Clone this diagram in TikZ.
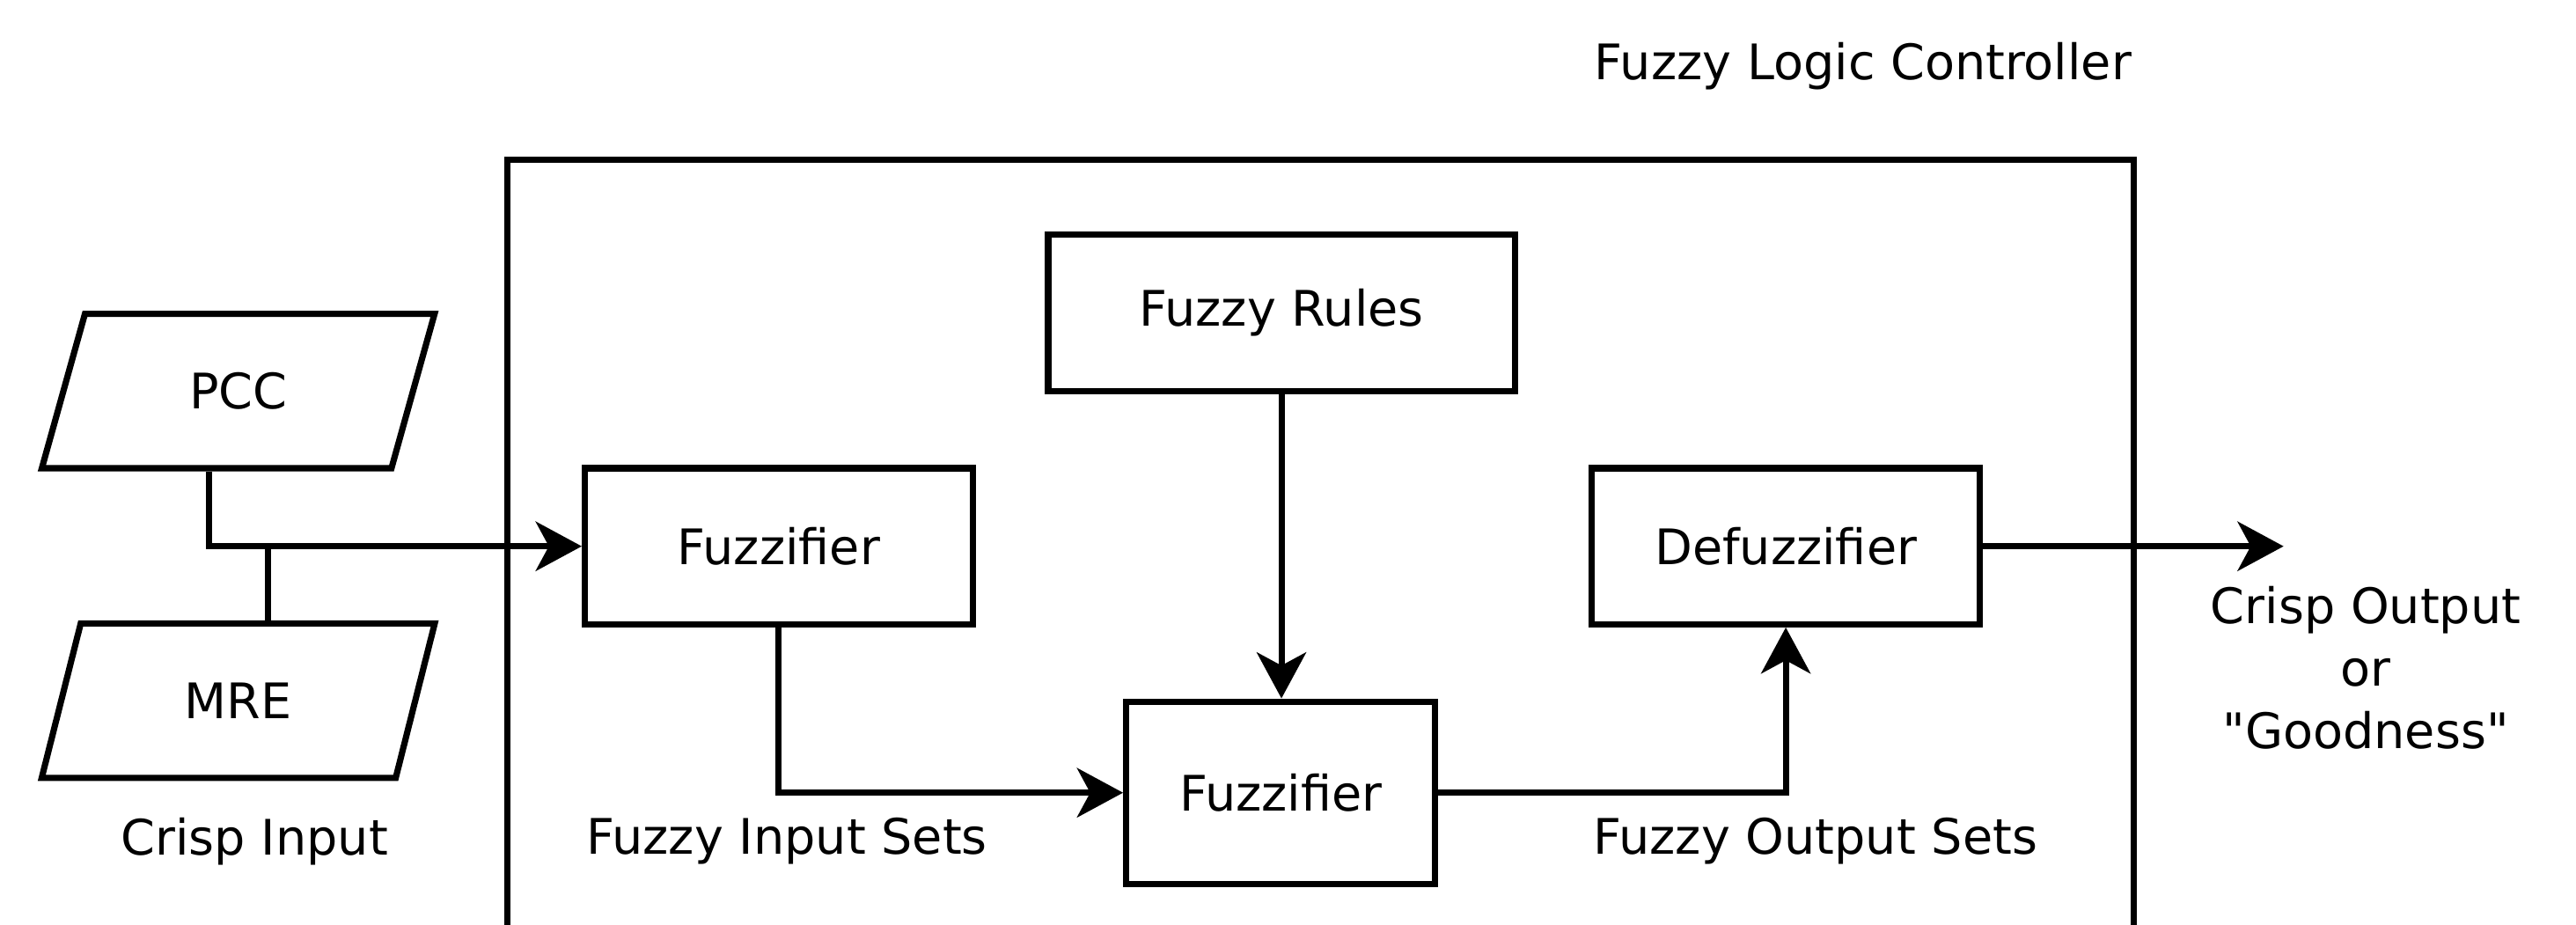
\documentclass[tikz,border=0pt]{standalone}
\usepackage{fontspec}
\setmainfont{DejaVu Sans}
\newfontfamily\qfont{DejaVu Sans}[Ligatures=TeXOff]
\usetikzlibrary{shapes.geometric,arrows.meta}
\newcommand\mylbl{\fontsize{14.9}{19}\selectfont}
\begin{document}
\begin{tikzpicture}[x=0.5pt,y=-0.5pt,
  line width=1.9pt,
  box/.style={draw,rectangle,inner sep=0pt,font=\mylbl},
  para/.style={draw,trapezium,trapezium left angle=69.6,trapezium right angle=110.4,
    trapezium stretches=true,minimum width=120pt,minimum height=47pt,inner sep=0pt,font=\mylbl},
  txt/.style={inner sep=0pt,font=\mylbl,align=center},
  arr/.style={-{Stealth[length=14pt,width=15pt,inset=4pt]}}]
\clip (0,0) rectangle (1568,563);
\useasboundingbox (0,0) rectangle (1568,563);
% outer controller box
\node[draw,rectangle,inner sep=0pt,minimum width=495pt,minimum height=251.5pt] (flc) at (804,348.5) {};
\node[txt] (title) at (1134,40) {Fuzzy Logic Controller};
% blocks
\node[box,minimum width=142pt,minimum height=47.5pt] (fr) at (780,190.5) {Fuzzy Rules};
\node[box,minimum width=118pt,minimum height=47.5pt] (fz1) at (474,332.5) {Fuzzifier};
\node[box,minimum width=118pt,minimum height=47.5pt] (dfz) at (1087,332.5) {Defuzzifier};
\node[box,minimum width=94pt,minimum height=55.5pt] (fz2) at (779.5,482.5) {Fuzzifier};
% inputs
\node[para] (pcc) at (145,238) {PCC};
\node[para] (mre) at (145,426.5) {MRE};
% labels
\node[txt] (ci) at (155,512) {Crisp Input};
\node[txt] (fis) at (479,512) {Fuzzy Input Sets};
\node[txt] (fos) at (1105,512) {Fuzzy Output Sets};
\node[txt,anchor=north] (co) at (1440,355) {Crisp Output\\or\\{\qfont "Goodness"}};
% connectors
\coordinate (j1) at (127,332.5);
\coordinate (j2) at (163,332.5);
\coordinate (outend) at (1390,332.5);
\draw[arr] (pcc.south -| j1) |- (fz1.west);
\draw (mre.north -| j2) -- (j2);
\draw[arr] (fz1.south) |- (fz2.west);
\draw[arr] (fr.south) -- (fr.south |- fz2.north);
\draw[arr] (fz2.east) -| (dfz.south);
\draw[arr] (dfz.east) -- (outend);
\end{tikzpicture}
\end{document}
